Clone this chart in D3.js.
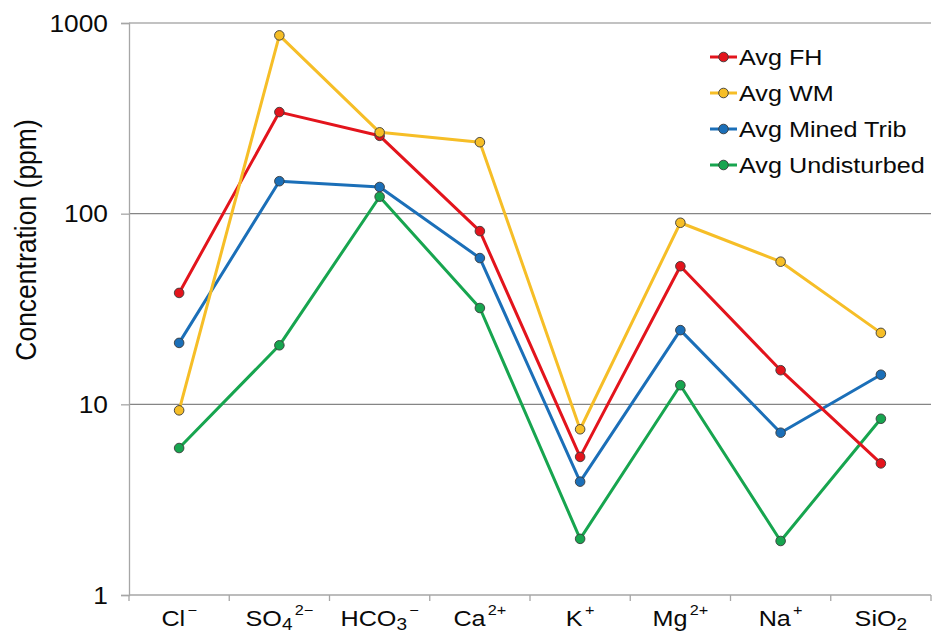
<!DOCTYPE html>
<html>
<head>
<meta charset="utf-8">
<script src="https://cdn.jsdelivr.net/npm/d3@7"></script>
<style>
  html, body { margin: 0; padding: 0; background: #fff; }
  svg { display: block; font-family: "Liberation Sans", Arial, sans-serif; }
</style>
</head>
<body>
<svg id="chart" width="933" height="634"></svg>
<script>
// Ion categories: base text, subscript, superscript
const categories = ["Cl", "SO4", "HCO3", "Ca", "K", "Mg", "Na", "SiO2"];
const catBase = ["Cl", "SO", "HCO", "Ca", "K", "Mg", "Na", "SiO"];
const catSub  = ["", "4", "3", "", "", "", "", "2"];
const catSup  = ["\u2212", "2\u2212", "\u2212", "2+", "+", "2+", "+", ""];

const seriesNames = ["Avg FH", "Avg WM", "Avg Mined Trib", "Avg Undisturbed"];
const seriesColors = ["#e3141c", "#f6be27", "#1b6fb8", "#17a54f"];

// Average concentrations (ppm)
const avgFH          = [38.4, 341, 256, 81, 5.3, 53, 15.1, 4.9];
const avgWM          = [9.3, 861, 267, 237, 7.4, 89.6, 56, 23.7];
const avgMinedTrib   = [21, 148, 138, 58.5, 3.93, 24.5, 7.1, 14.3];
const avgUndisturbed = [5.9, 20.4, 122.7, 32, 1.97, 12.6, 1.92, 8.4];

const yTicks = [1, 10, 100, 1000];

// Draw order: later series on top
const series = [
  { name: seriesNames[2], color: seriesColors[2], values: avgMinedTrib },
  { name: seriesNames[3], color: seriesColors[3], values: avgUndisturbed },
  { name: seriesNames[0], color: seriesColors[0], values: avgFH },
  { name: seriesNames[1], color: seriesColors[1], values: avgWM }
];

const svg = d3.select("#chart");
const margin = { left: 129, right: 2, top: 23, bottom: 39 };
const W = 933, H = 634;
const SX = 1.12;        // horizontal widening of all lettering
const FS = 22.5;        // base font size
const INK = "#0a0a0a";

const x = d3.scaleBand().domain(categories).range([margin.left, W - margin.right]);
const y = d3.scaleLog().domain([1, 1000]).range([H - margin.bottom, margin.top]);

// Text placed at (px, py), widened horizontally about its anchor point
function label(parent, px, py, anchor, size, extra) {
  const g = parent.append("g").attr("transform", `translate(${px},${py}) scale(${SX},1)${extra || ""}`);
  return g.append("text").attr("text-anchor", anchor).attr("font-size", size).attr("fill", INK);
}

// Horizontal gridlines
svg.append("g")
  .selectAll("line")
  .data(yTicks.filter(d => d > 1))
  .join("line")
  .attr("x1", margin.left).attr("x2", W - margin.right)
  .attr("y1", d => y(d)).attr("y2", d => y(d))
  .attr("stroke", "#858585").attr("stroke-width", 1.2);

// Y axis (lines from d3, labels widened separately)
const yAxis = svg.append("g")
  .attr("transform", `translate(${margin.left},0)`)
  .call(d3.axisLeft(y).tickValues(yTicks).tickFormat("").tickSize(8));
yAxis.select(".domain").attr("stroke", "#a6a6a6").attr("stroke-width", 1.3);
yAxis.selectAll(".tick line").attr("stroke", "#a6a6a6").attr("stroke-width", 1.3);
yTicks.forEach(v => {
  label(svg, margin.left - 21, y(v) + 8.5, "end", 23.5).text(d3.format("d")(v));
});

// X axis with ticks at category boundaries
const xAxisG = svg.append("g").attr("transform", `translate(0,${y(1)})`);
xAxisG.append("line")
  .attr("x1", margin.left).attr("x2", W - margin.right)
  .attr("stroke", "#a6a6a6").attr("stroke-width", 1.3);
const bounds = categories.map(c => x(c)).concat([x(categories[categories.length - 1]) + x.bandwidth()]);
xAxisG.selectAll("line.tk").data(bounds).join("line").attr("class", "tk")
  .attr("x1", d => d).attr("x2", d => d).attr("y1", 0).attr("y2", 6)
  .attr("stroke", "#a6a6a6").attr("stroke-width", 1.3);

// Category labels with sub/superscripts
categories.forEach((c, i) => {
  const t = label(xAxisG, x(c) + x.bandwidth() / 2, 31, "middle", FS);
  t.append("tspan").text(catBase[i]);
  if (catSub[i]) t.append("tspan").attr("font-size", 17).attr("dy", 4).text(catSub[i]);
  if (catSup[i]) t.append("tspan").attr("font-size", 14.5).attr("dy", catSub[i] ? -15 : -11).attr("dx", 2).text(catSup[i]);
});

// Axis title
label(svg, 36, 240, "middle", 26.5, " rotate(-90)").text("Concentration  (ppm)");

// Lines and markers
const line = d3.line().x((d, i) => x(categories[i]) + x.bandwidth() / 2).y(d => y(d));
series.forEach(s => {
  svg.append("path").datum(s.values)
    .attr("d", line).attr("fill", "none")
    .attr("stroke", s.color).attr("stroke-width", 3).attr("stroke-linejoin", "round");
  svg.append("g").selectAll("circle").data(s.values).join("circle")
    .attr("cx", (d, i) => x(categories[i]) + x.bandwidth() / 2)
    .attr("cy", d => y(d)).attr("r", 4.8)
    .attr("fill", s.color).attr("stroke", "#3a3a3a").attr("stroke-width", 0.9);
});

// Legend
const legend = svg.append("g").attr("transform", "translate(710,57)");
seriesNames.forEach((n, i) => {
  const g = legend.append("g").attr("transform", `translate(0,${i * 36})`);
  g.append("line").attr("x1", 0).attr("x2", 27).attr("stroke", seriesColors[i]).attr("stroke-width", 3);
  g.append("circle").attr("cx", 13.5).attr("r", 4.8).attr("fill", seriesColors[i])
    .attr("stroke", "#3a3a3a").attr("stroke-width", 0.9);
  label(g, 29, 8, "start", FS).text(n);
});
</script>
</body>
</html>
